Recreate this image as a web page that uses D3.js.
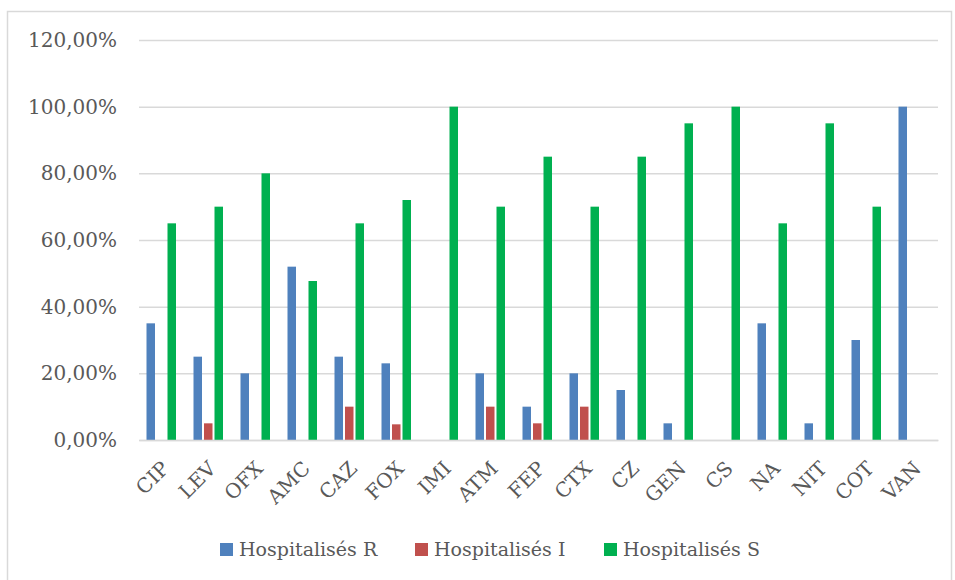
<!DOCTYPE html>
<html>
<head>
<meta charset="utf-8">
<script src="https://cdn.jsdelivr.net/npm/d3@7"></script>
<style>
  body { margin: 0; background: #fff; }
  text { font-family: 'DejaVu Serif', serif; fill: #595959; }
</style>
</head>
<body>
<script>
const categories = ['CIP', 'LEV', 'OFX', 'AMC', 'CAZ', 'FOX', 'IMI', 'ATM', 'FEP', 'CTX', 'CZ', 'GEN', 'CS', 'NA', 'NIT', 'COT', 'VAN'];
const seriesNames = ['Hospitalisés R', 'Hospitalisés I', 'Hospitalisés S'];
const hospR = [35, 25, 20, 52, 25, 23, 0, 20, 10, 20, 15, 5, 0, 35, 5, 30, 100];
const hospI = [0, 5, 0, 0, 10, 4.7, 0, 10, 5, 10, 0, 0, 0, 0, 0, 0, 0];
const hospS = [65, 70, 80, 47.7, 65, 72, 100, 70, 85, 70, 85, 95, 100, 65, 95, 70, 0];
const yTicks = [0, 20, 40, 60, 80, 100, 120];
const colors = ['#4F81BD', '#C0504D', '#00B050'];

const w = 955;
const h = 580;
const plotLeft = 139, plotRight = 938, plotTop = 40, plotBottom = 440;
const serif = "'DejaVu Serif', serif";

const svg = d3.select('body').append('svg')
  .attr('width', w)
  .attr('height', h);

// chart frame
svg.append('rect')
  .attr('x', 7.5).attr('y', 11.5)
  .attr('width', 944).attr('height', 580)
  .attr('fill', 'none')
  .attr('stroke', '#D9D9D9')
  .attr('stroke-width', 1.5);

const x = d3.scaleBand().domain(categories).range([plotLeft, plotRight]);
const inner = d3.scaleBand().domain([0, 1, 2]).range([0, 31.5]);
const y = d3.scaleLinear().domain([0, 120]).range([plotBottom, plotTop]);

// gridlines + y labels
const yAxis = svg.append('g')
  .attr('transform', `translate(${plotLeft},0)`)
  .call(d3.axisLeft(y).tickValues(yTicks).tickSize(-(plotRight - plotLeft)).tickPadding(22)
    .tickFormat(d => d3.format('.2f')(d).replace('.', ',') + '%'));
yAxis.attr('font-family', serif);
yAxis.select('.domain').remove();
yAxis.selectAll('line').attr('stroke', '#D9D9D9').attr('stroke-width', 1.5);
yAxis.selectAll('text').attr('font-size', 20).attr('fill', '#595959');

const series = [hospR, hospI, hospS];
series.forEach((vals, si) => {
  svg.append('g').selectAll('rect')
    .data(vals)
    .enter()
    .append('rect')
    .attr('x', (d, i) => x(categories[i]) + 7.5 + inner(si))
    .attr('y', d => y(d))
    .attr('width', 8.5)
    .attr('height', d => plotBottom - y(d))
    .attr('fill', colors[si]);
});

// x labels
const xAxis = svg.append('g')
  .attr('transform', `translate(0,${plotBottom})`)
  .call(d3.axisBottom(x).tickSize(0).tickPadding(0));
xAxis.attr('font-family', serif);
xAxis.select('.domain').attr('stroke', '#D9D9D9').attr('stroke-width', 1.5);
xAxis.selectAll('text')
  .attr('font-size', 20)
  .attr('fill', '#595959')
  .attr('text-anchor', 'end')
  .attr('dy', 0)
  .attr('transform', 'translate(-3,19) rotate(-45)')
  .attr('y', 0)
  .attr('x', 0)
  .attr('dominant-baseline', 'hanging');

// legend
const legendX = [220, 415, 604];
const legend = svg.append('g').attr('font-family', serif);
seriesNames.forEach((name, i) => {
  legend.append('rect')
    .attr('x', legendX[i]).attr('y', 543)
    .attr('width', 13).attr('height', 13)
    .attr('fill', colors[i]);
  legend.append('text')
    .attr('x', legendX[i] + 19).attr('y', 556)
    .attr('font-size', 19)
    .attr('font-family', serif)
    .text(name);
});
</script>
</body>
</html>
